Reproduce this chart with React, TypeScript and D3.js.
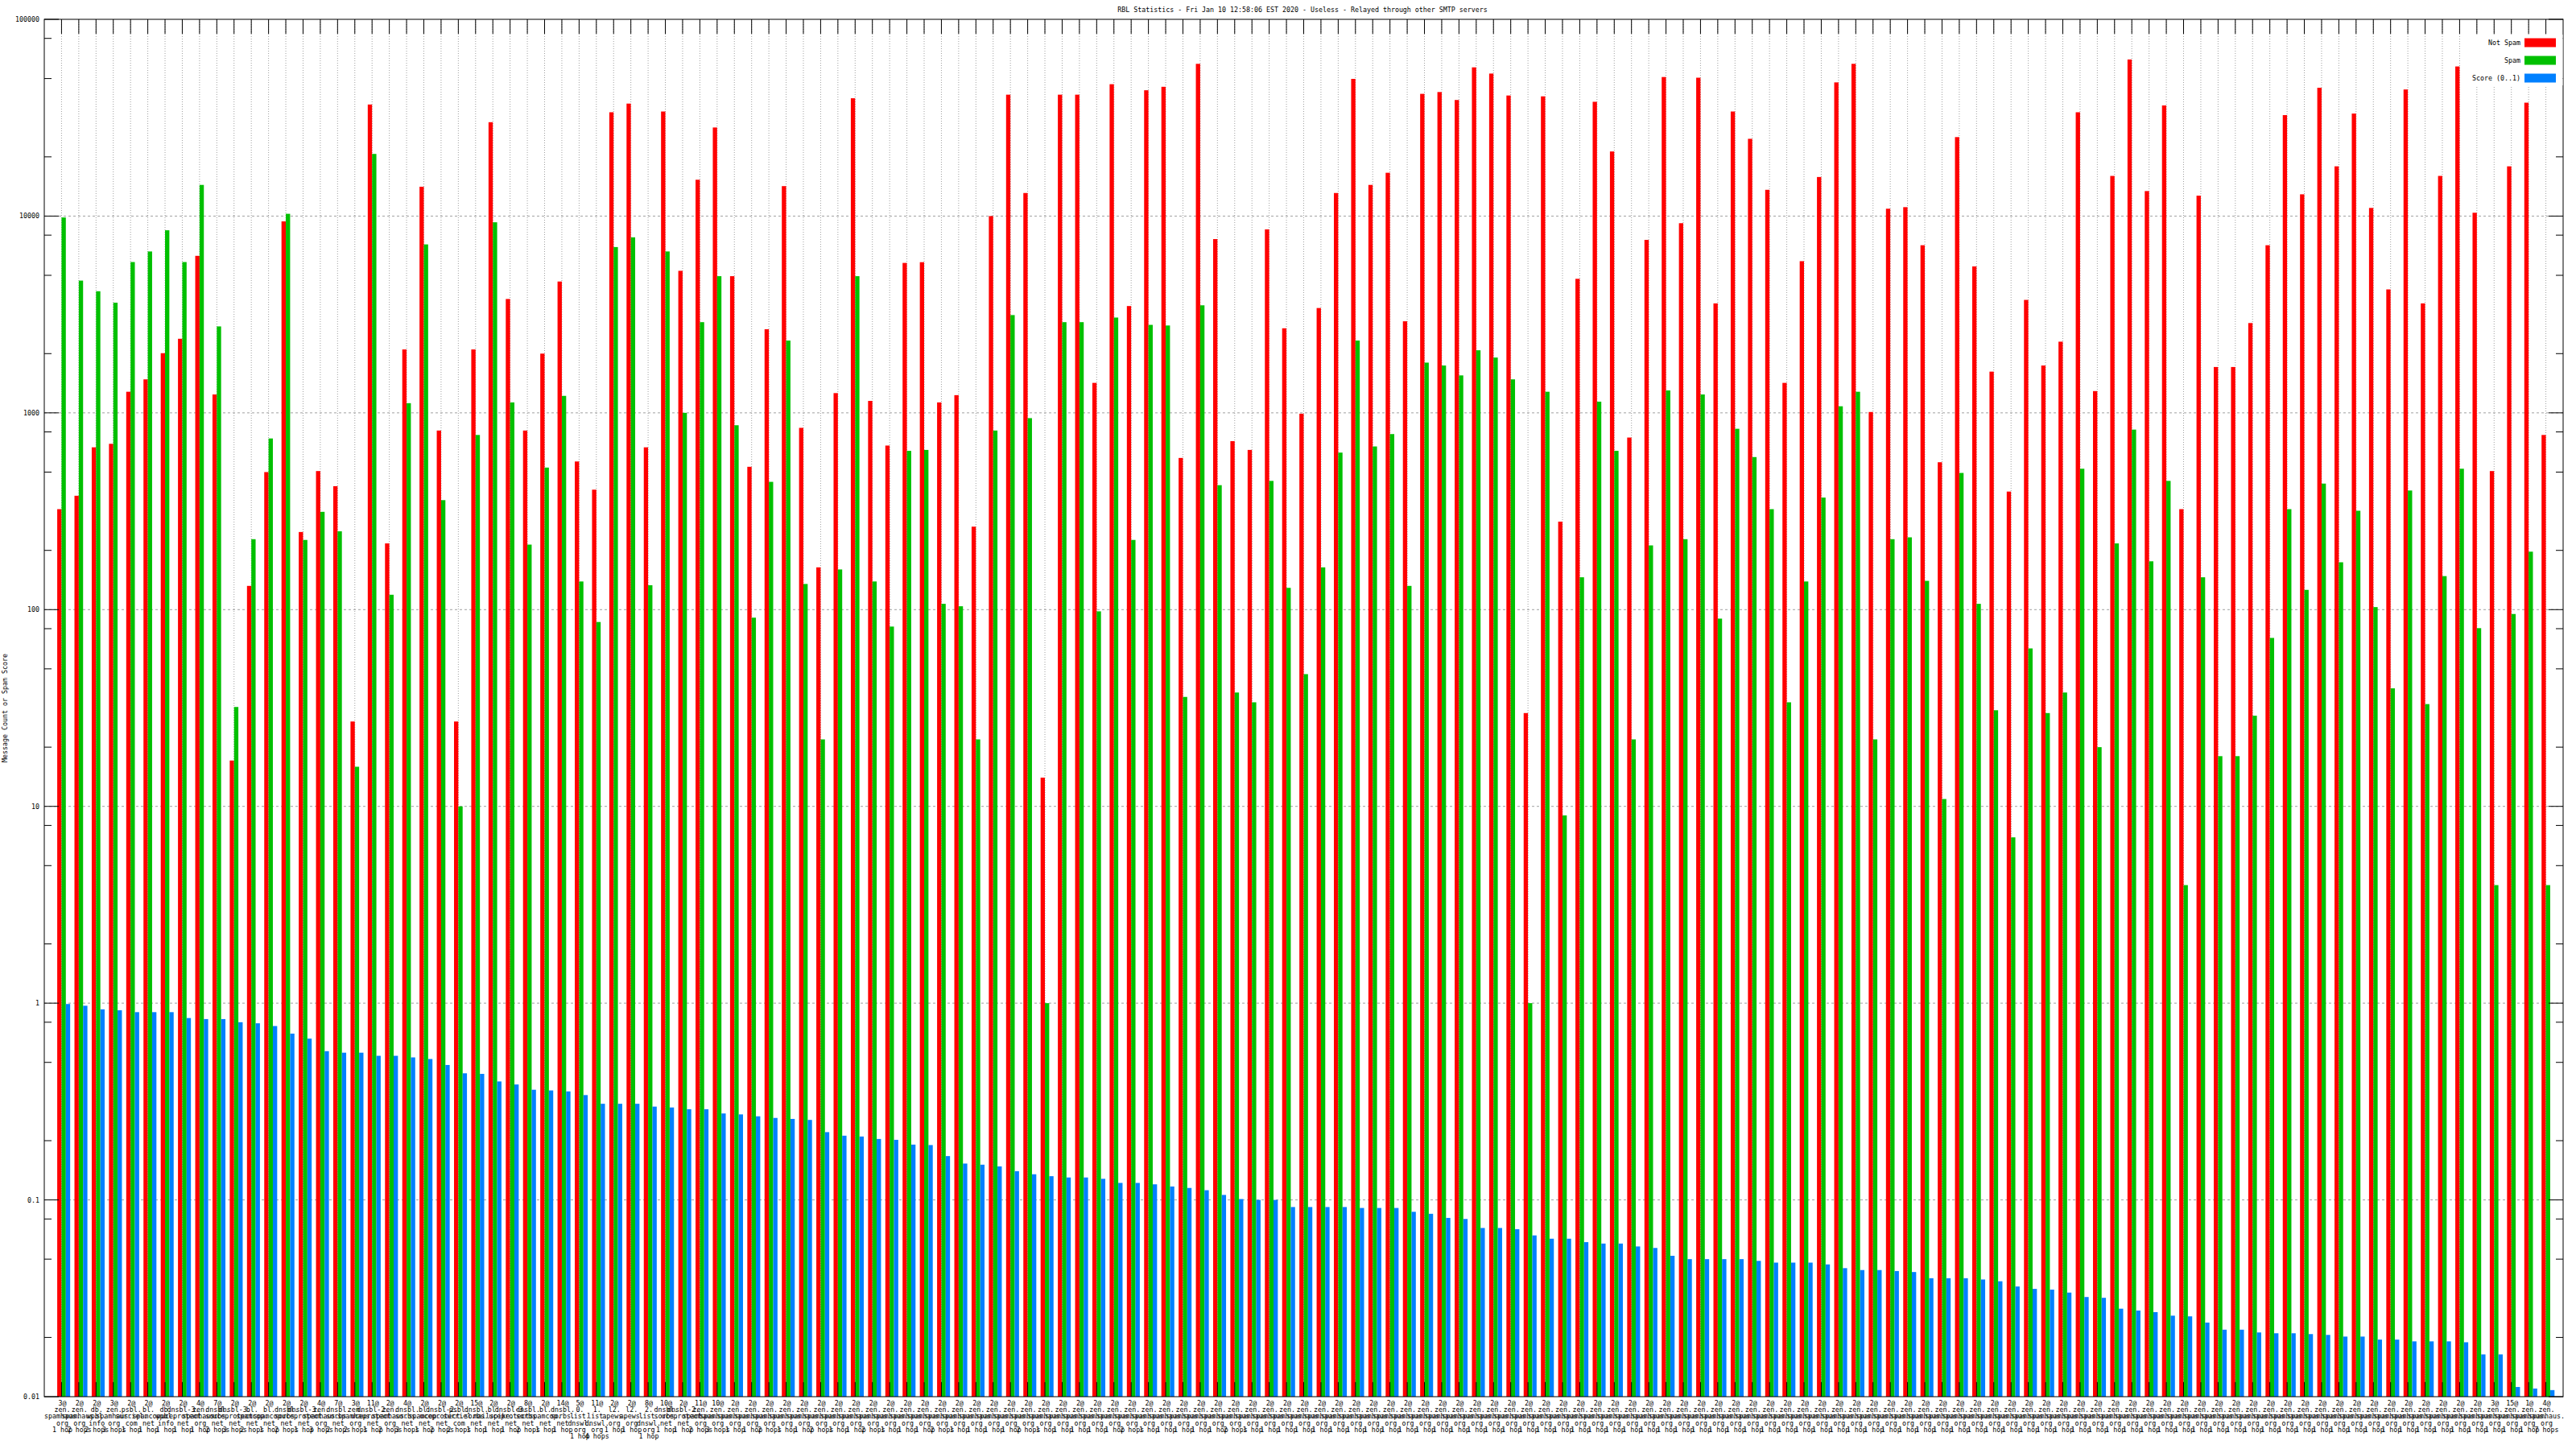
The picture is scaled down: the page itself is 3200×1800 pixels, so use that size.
import * as d3 from "d3"

// message counts per RBL hit (red = not spam, green = spam), score 0..1 in blue
const notSpam = [
  324, 379, 668, 696, 1280, 1480, 2010, 2380, 6280, 1240, 17.1, 132, 500, 9400, 248, 506, 424, 27, 36900, 217,
  2100, 14100, 813, 27, 2100, 30000, 3790, 813, 2000, 4650, 566, 407, 33700, 37300, 668, 34000, 5270, 15300, 28200, 4950,
  532, 2660, 14200, 839, 164, 1260, 39700, 1150, 682, 5780, 5830, 1130, 1230, 264, 10000, 41400, 13100, 14, 41400, 41400,
  1420, 46800, 3490, 43600, 45400, 590, 59400, 7640, 718, 648, 8560, 2690, 990, 3410, 13100, 49800, 14400, 16600, 2920, 41800,
  42700, 38900, 57000, 53000, 41000, 29.8, 40600, 280, 4800, 38100, 21300, 749, 7570, 50900, 9200, 50500, 3600, 34000, 24700, 13600,
  1420, 5900, 15800, 47800, 59400, 1010, 10900, 11100, 7110, 561, 25200, 5550, 1620, 398, 3750, 1740, 2300, 33700, 1290, 16000,
  62500, 13400, 36500, 324, 12700, 1710, 1710, 2860, 7110, 32600, 12900, 44900, 17900, 33200, 11000, 4240, 44000, 3600, 16000, 57600,
  10400, 506, 17900, 37700, 772,
]

const spam = [
  9840, 4700, 4150, 3630, 5840, 6610, 8470, 5840, 14400, 2750, 32, 228, 741, 10270, 226, 314, 250, 15.9, 20700, 119,
  1120, 7180, 360, 10, 772, 9300, 1130, 214, 527, 1220, 139, 86.5, 6960, 7800, 133, 6610, 1000, 2890, 4950, 865,
  91, 446, 2330, 135, 21.9, 160, 4950, 139, 82, 641, 648, 107, 104, 21.9, 813, 3140, 940, 1, 2890, 2890,
  98, 3050, 226, 2800, 2780, 36, 3520, 429, 37.9, 33.8, 451, 129, 47, 164, 628, 2330, 675, 780, 132, 1800,
  1740, 1550, 2080, 1910, 1480, 1, 1280, 9, 146, 1140, 641, 21.9, 212, 1300, 228, 1240, 90, 830, 596, 324,
  33.8, 139, 371, 1080, 1280, 21.9, 228, 233, 140, 10.9, 495, 107, 30.8, 6.96, 63.5, 29.8, 37.9, 520, 20, 217,
  822, 176, 451, 3.98, 146, 18, 18, 28.9, 71.8, 324, 126, 437, 174, 318, 103, 39.8, 403, 33.1, 148, 520,
  80.5, 3.98, 95, 197, 3.98,
]

const score = [
  0.99, 0.97, 0.93, 0.92, 0.9, 0.9, 0.9, 0.84, 0.83, 0.83, 0.8, 0.79, 0.765, 0.7, 0.66, 0.57, 0.56, 0.56, 0.54, 0.54,
  0.53, 0.52, 0.485, 0.44, 0.437, 0.4, 0.386, 0.363, 0.36, 0.356, 0.341, 0.308, 0.308, 0.308, 0.298, 0.295, 0.289, 0.289, 0.275, 0.272,
  0.266, 0.261, 0.258, 0.255, 0.221, 0.212, 0.21, 0.204, 0.202, 0.191, 0.19, 0.167, 0.153, 0.151, 0.148, 0.14, 0.135, 0.132, 0.13, 0.13,
  0.128, 0.122, 0.122, 0.12, 0.117, 0.115, 0.112, 0.106, 0.101, 0.1, 0.1, 0.092, 0.092, 0.092, 0.092, 0.091, 0.091, 0.091, 0.087, 0.085,
  0.081, 0.08, 0.072, 0.072, 0.071, 0.066, 0.0635, 0.0635, 0.061, 0.06, 0.06, 0.058, 0.057, 0.052, 0.05, 0.05, 0.05, 0.05, 0.049, 0.048,
  0.048, 0.048, 0.047, 0.045, 0.044, 0.044, 0.0435, 0.043, 0.04, 0.04, 0.04, 0.0394, 0.0386, 0.0363, 0.0353, 0.035, 0.0338, 0.0321, 0.0318, 0.028,
  0.0274, 0.0269, 0.0258, 0.0256, 0.0238, 0.0219, 0.0219, 0.0212, 0.021, 0.021, 0.0208, 0.0206, 0.0202, 0.0202, 0.0195, 0.0195, 0.0191, 0.0191, 0.0191, 0.0189,
  0.0164, 0.0164, 0.0112, 0.011, 0.0108,
]

// x tick labels: "<hits>@ <rbl> <hops>"
const hits = [
  3, 2, 2, 3, 2, 2, 2, 2, 4, 7, 2, 2, 2, 2, 2, 4, 7, 3, 11, 2, 4, 2, 2, 2, 15, 2, 2, 8, 2, 14,
  5, 11, 2, 2, 8, 10, 2, 11, 10, 2, 2, 2, 2, 2, 2, 2, 2, 2, 2, 2, 2, 2, 2, 2, 2, 2, 2, 2, 2, 2,
  2, 2, 2, 2, 2, 2, 2, 2, 2, 2, 2, 2, 2, 2, 2, 2, 2, 2, 2, 2, 2, 2, 2, 2, 2, 2, 2, 2, 2, 2,
  2, 2, 2, 2, 2, 2, 2, 2, 2, 2, 2, 2, 2, 2, 2, 2, 2, 2, 2, 2, 2, 2, 2, 2, 2, 2, 2, 2, 2, 2,
  2, 2, 2, 2, 2, 2, 2, 2, 2, 2, 2, 2, 2, 2, 2, 2, 2, 2, 2, 2, 2, 3, 15, 1, 4, 14, 9, 2, 11,
]

const rbls = [
  "zen.spamhaus.org", "zen.spamhaus.org", "db.wpbl.info", "zen.spamhaus.org", "psbl.surriel.com",
  "bl.spamcop.net", "db.wpbl.info", "dnsbl-3.uceprotect.net", "zen.spamhaus.org", "dnsbl.sorbs.net",
  "dnsbl-3.uceprotect.net", "bl.spamcop.net", "bl.spamcop.net", "dnsbl.sorbs.net", "dnsbl-3.uceprotect.net",
  "zen.spamhaus.org", "dnsbl.sorbs.net", "zen.spamhaus.org", "dnsbl-2.uceprotect.net", "zen.spamhaus.org",
  "dnsbl.sorbs.net", "bl.spamcop.net", "dnsbl-2.uceprotect.net", "psbl.surriel.com", "dnsbl.sorbs.net",
  "bl.mailspike.net", "dnsbl-3.uceprotect.net", "dnsbl.sorbs.net", "bl.spamcop.net", "dnsbl.sorbs.net",
  "0.list.dnswl.org", "1.list.dnswl.org", "l2.apews.org", "l2.apews.org", "2.list.dnswl.org",
  "dnsbl.sorbs.net", "dnsbl-2.uceprotect.net", "zen.spamhaus.org", "zen.spamhaus.org",
]
while (rbls.length < 145) rbls.push("zen.spamhaus.org")

const hops = [
  1, 2, 2, 3, 1, 1, 1, 1, 1, 2, 3, 2, 1, 2, 1, 3, 2, 2, 1, 2, 3, 1, 2, 2, 1, 1, 1, 2, 1, 1,
  1, 4, 1, 1, 1, 1, 1, 2, 3, 1, 1, 2, 1, 1, 2, 1, 1, 2, 1, 1, 1, 2, 1, 1, 1, 1, 2, 1, 1, 1,
  1, 1, 2, 1, 1, 1, 1, 1, 2, 1, 1, 1, 1, 1, 1, 1, 1, 1, 1, 1, 1, 1, 1, 1, 1, 1, 1, 1, 1, 1,
  1, 1, 1, 1, 1, 1, 1, 1, 1, 1, 1, 1, 1, 1, 1, 1, 1, 1, 1, 1, 1, 1, 1, 1, 1, 1, 1, 1, 1, 1,
  1, 1, 1, 1, 1, 1, 1, 1, 1, 1, 1, 1, 1, 1, 1, 1, 1, 1, 1, 1, 1, 1, 1, 1, 7,
]

const yTicks = [100000, 10000, 1000, 100, 10, 1, 0.1, 0.01]
const legendItems = ["Not Spam", "Spam", "Score (0..1)"]
const colors = ["#ff0000", "#00c000", "#0080ff"]

const W = 3200
const H = 1800
const plot = { left: 55, right: 3184, top: 24, bottom: 1735 }
const font = "'DejaVu Sans Mono', monospace"
const fs = 8.3

function labelLines(i: number) {
  const parts = rbls[i].split(".")
  const mid = parts.map((p, k) => (k < parts.length - 1 ? p + "." : p))
  return [`${hits[i]}@`, ...mid, `${hops[i]} hop${hops[i] > 1 ? "s" : ""}`]
}

export default function App() {
  const n = notSpam.length
  const x = d3.scaleLinear().domain([-1, n]).range([plot.left, plot.right])
  const y = d3.scaleLog().domain([0.01, 100000]).range([plot.bottom, plot.top])
  const bw = x(0.25) - x(0)

  const minor: number[] = []
  for (let e = -2; e < 5; e++) {
    for (const m of [2, 5, 8]) minor.push(m * Math.pow(10, e))
  }
  const series = [notSpam, spam, score]
  const idx = d3.range(n)

  return (
    <svg
      width={W}
      height={H}
      style={{ position: "absolute", left: 0, top: 0, background: "#fff" }}
      fontFamily={font}
      fontSize={fs}
    >
      <rect x={0} y={0} width={W} height={H} fill="#fff" />

      {/* grid */}
      {idx.map((i) => (
        <line key={"vg" + i} x1={x(i)} x2={x(i)} y1={plot.top} y2={plot.bottom} stroke="#a0a0a0" strokeDasharray="1,2" />
      ))}
      {yTicks.slice(1, -1).map((t) => (
        <line key={"hg" + t} x1={plot.left} x2={plot.right} y1={y(t)} y2={y(t)} stroke="#a0a0a0" strokeDasharray="3,3" />
      ))}

      {/* bars */}
      {series.map((vals, s) =>
        vals.map((v, i) => (
          <rect
            key={`b${s}-${i}`}
            x={x(i - 0.25 + s * 0.25)}
            y={y(v)}
            width={bw}
            height={plot.bottom - y(v)}
            fill={colors[s]}
          />
        )),
      )}

      {/* tics */}
      {idx.map((i) => (
        <g key={"xt" + i}>
          <line x1={x(i)} x2={x(i)} y1={plot.top} y2={plot.top + 18} stroke="#000" />
          <line x1={x(i)} x2={x(i)} y1={plot.bottom} y2={plot.bottom - 18} stroke="#000" />
        </g>
      ))}
      {yTicks.map((t) => (
        <g key={"yt" + t}>
          <line x1={plot.left} x2={plot.left + 18} y1={y(t)} y2={y(t)} stroke="#000" />
          <line x1={plot.right} x2={plot.right - 18} y1={y(t)} y2={y(t)} stroke="#000" />
          <text x={49} y={y(t)} textAnchor="end" dominantBaseline="central">
            {String(t)}
          </text>
        </g>
      ))}
      {minor.map((t) => (
        <g key={"ym" + t}>
          <line x1={plot.left} x2={plot.left + 9} y1={y(t)} y2={y(t)} stroke="#000" />
          <line x1={plot.right} x2={plot.right - 9} y1={y(t)} y2={y(t)} stroke="#000" />
        </g>
      ))}

      {/* x labels */}
      {idx.map((i) => (
        <text key={"xl" + i} x={x(i) + 1} y={1743} textAnchor="middle">
          {labelLines(i).map((l, k) => (
            <tspan key={k} x={x(i) + 1} y={1743 + k * 8.2} dominantBaseline="central">
              {l}
            </tspan>
          ))}
        </text>
      ))}

      {/* border */}
      <rect
        x={plot.left}
        y={plot.top}
        width={plot.right - plot.left}
        height={plot.bottom - plot.top}
        fill="none"
        stroke="#000"
      />

      {/* legend */}
      <rect x={3066} y={43} width={plot.right - 3066 - 0.5} height={63} fill="#fff" />
      {legendItems.map((name, k) => (
        <g key={name}>
          <text x={3131} y={53 + k * 22} textAnchor="end" dominantBaseline="central">
            {name}
          </text>
          <rect x={3136} y={53 + k * 22 - 5.5} width={39} height={11} fill={colors[k]} />
        </g>
      ))}

      {/* title and axis label */}
      <text x={1618} y={12} textAnchor="middle" dominantBaseline="central">
        RBL Statistics - Fri Jan 10 12:58:06 EST 2020 - Useless - Relayed through other SMTP servers
      </text>
      <text transform={`translate(6,${(plot.top + plot.bottom) / 2}) rotate(-90)`} textAnchor="middle" dominantBaseline="central">
        Message Count or Spam Score
      </text>
    </svg>
  )
}
